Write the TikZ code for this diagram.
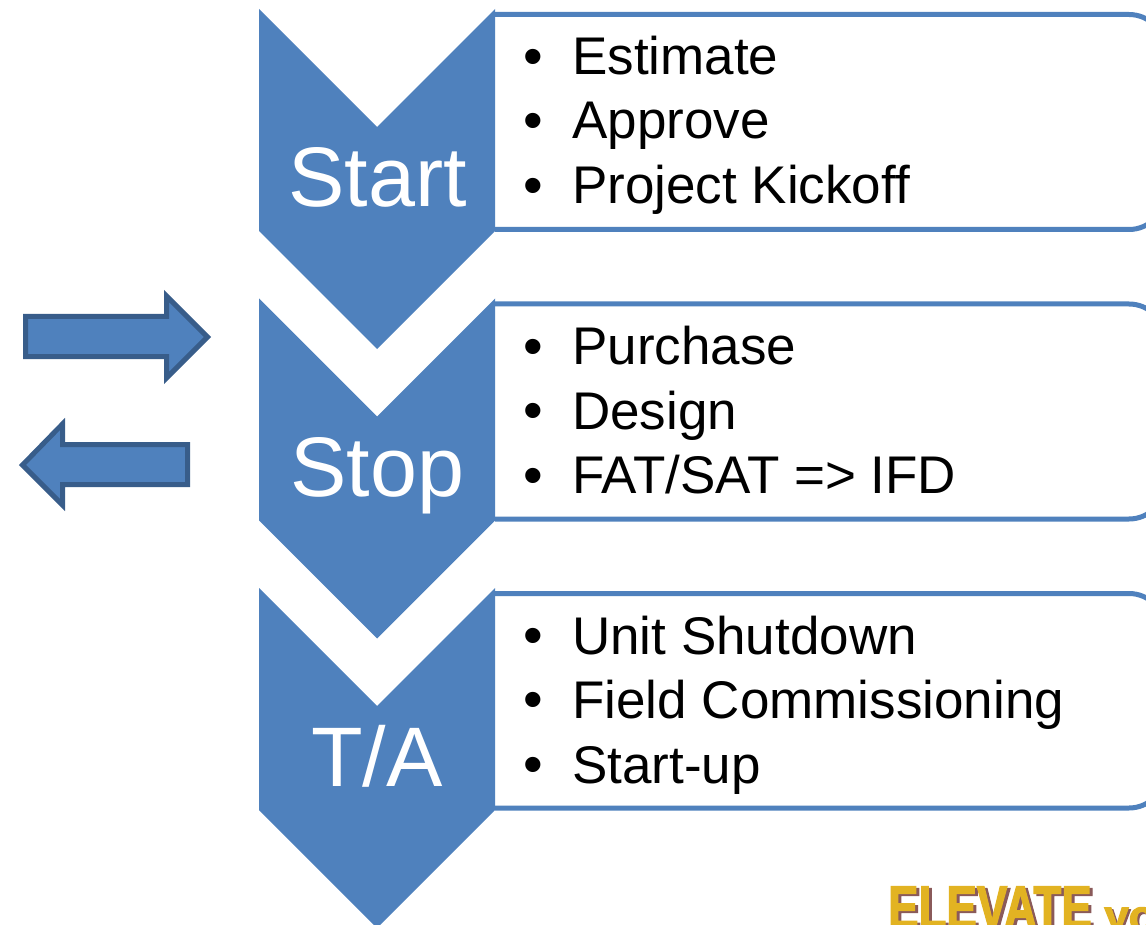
\documentclass[tikz,border=0pt]{standalone}
\usepackage{fontspec}
\setmainfont{Liberation Sans}
\newfontfamily\logofont[BoldFont={Liberation Sans Bold},FakeBold=2.5]{Liberation Sans Bold}
\definecolor{acc}{HTML}{4F81BD}
\definecolor{accd}{HTML}{385D8A}
\definecolor{logoy}{HTML}{E2B322}
\definecolor{logob}{HTML}{8A5A5A}
\tikzset{
  chev/.style={fill=acc,draw=none},
  panel/.style={draw=acc,line width=5pt,fill=white,rounded corners=36pt},
  blockarrow/.style={fill=acc,draw=accd,line width=5pt,miter limit=10},
  phase/.style={anchor=base,text=white,inner sep=0pt,font=\fontsize{84.5}{96}\selectfont},
  item/.style={anchor=base west,text=black,inner sep=0pt,font=\fontsize{53}{60}\selectfont},
  dot/.style={anchor=base,text=black,inner sep=0pt,font=\fontsize{56}{60}\selectfont},
  logo/.style={anchor=base west,inner sep=0pt,font=\logofont\fontsize{60}{64}\selectfont},
  logosmall/.style={anchor=base west,inner sep=0pt,font=\logofont\fontsize{44}{48}\selectfont}
}
\begin{document}
\begin{tikzpicture}[x=1pt,y=-1pt]
\useasboundingbox (0,0) rectangle (1146,925);
\clip (0,0) rectangle (1146,925);
% panels
\draw[panel] (495,14.5) -- (1165,14.5) -- (1165,229.5) -- (495,229.5);
\draw[panel] (495,304) -- (1165,304) -- (1165,519) -- (495,519);
\draw[panel] (495,593.5) -- (1165,593.5) -- (1165,808) -- (495,808);
% chevrons
\fill[chev] (259,9) -- (377,127) -- (495,9) -- (495,231) -- (377,349) -- (259,231) -- cycle;
\fill[chev] (259,298.5) -- (377,416.5) -- (495,298.5) -- (495,520.5) -- (377,638.5) -- (259,520.5) -- cycle;
\fill[chev] (259,588) -- (377,706) -- (495,588) -- (495,810) -- (377,928) -- (259,810) -- cycle;
\node[phase] (start) at (377.5,207) {Start};
\node[phase] (stop) at (377.5,496) {Stop};
\node[phase] (ta) at (377,786) {T/A};
% block arrows
\draw[blockarrow] (25.5,316.5) -- (166.5,316.5) -- (166.5,296) -- (207.5,337) -- (166.5,378) -- (166.5,356.5) -- (25.5,356.5) -- cycle;
\draw[blockarrow] (187.5,444.5) -- (62.5,444.5) -- (62.5,424) -- (22.5,465) -- (62.5,505) -- (62.5,484.5) -- (187.5,484.5) -- cycle;
% lists
\node[dot] (d1) at (533,75.5) {•};  \node[item] (t1) at (572,75) {Estimate};
\node[dot] (d2) at (533,139.5) {•}; \node[item] (t2) at (572,139) {Approve};
\node[dot] (d3) at (533,204.5) {•}; \node[item] (t3) at (572,204) {Project Kickoff};
\node[dot] (d4) at (533,365) {•}; \node[item] (t4) at (572,364) {Purchase};
\node[dot] (d5) at (533,429) {•}; \node[item] (t5) at (572,429) {Design};
\node[dot] (d6) at (533,494) {•}; \node[item] (t6) at (572,493) {FAT/SAT => IFD};
\node[dot] (d7) at (533,654) {•}; \node[item] (t7) at (572,654) {Unit Shutdown};
\node[dot] (d8) at (533,718) {•}; \node[item] (t8) at (572,718) {Field Commissioning};
\node[dot] (d9) at (533,783) {•}; \node[item] (t9) at (572,783) {Start-up};
% logo
\node[logo,text=logob] (logoshadow) at (891,930) {\scalebox{0.76}[1]{ELEVATE}};
\node[logo,text=logoy] (logotext) at (888,928) {\scalebox{0.76}[1]{ELEVATE}};
\node[logosmall,text=logob] (logoyoshadow) at (1106,933) {yo};
\node[logosmall,text=logoy] (logoyo) at (1104,931) {yo};
\end{tikzpicture}
\end{document}
